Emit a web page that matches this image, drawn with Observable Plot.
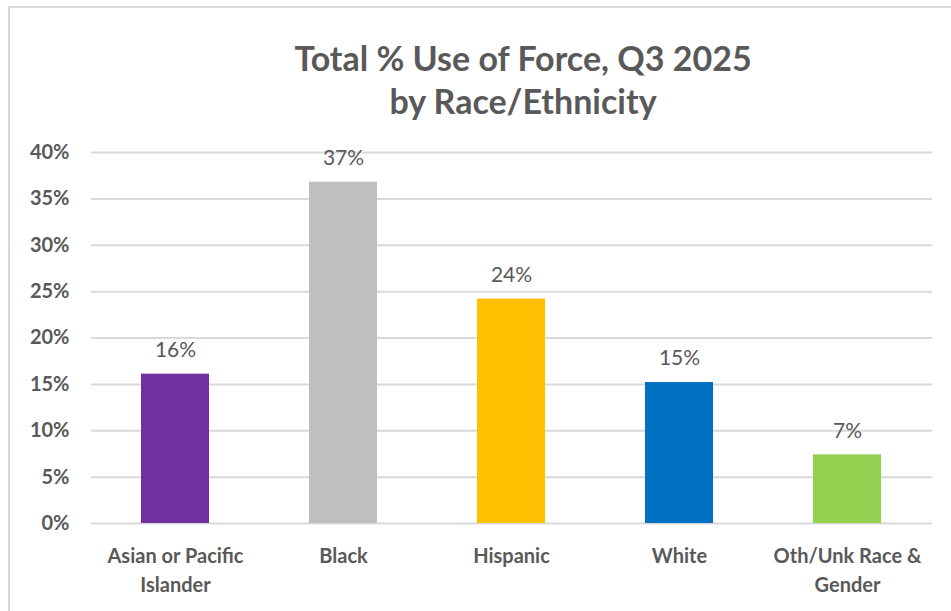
<!DOCTYPE html>
<html>
<head>
<meta charset="utf-8">
<script src="https://cdn.jsdelivr.net/npm/d3@7"></script>
<script src="https://cdn.jsdelivr.net/npm/@observablehq/plot@0.6"></script>
<style>
  html, body { margin: 0; padding: 0; background: #fff; overflow: hidden; }
  #wrap { position: relative; width: 951px; height: 611px; overflow: hidden; font-family: Lato, "Open Sans", sans-serif; }
  #frame { position: absolute; left: 8px; top: 6px; width: 960px; height: 640px; border-left: 2px solid #d9d9d9; border-top: 2px solid #d9d9d9; }
  #title { position: absolute; left: 95px; width: 856px; top: 36px; text-align: center; font-weight: bold; font-size: 34px; line-height: 43px; color: #595959; }
  #chart { position: absolute; left: 0; top: 0; }
</style>
</head>
<body>
<div id="wrap">
  <div id="frame"></div>
  <div id="chart"></div>
  <div id="title">Total % Use of Force, Q3 2025<br>by Race/Ethnicity</div>
</div>
<script>
const categories = ["Asian or Pacific Islander", "Black", "Hispanic", "White", "Oth/Unk Race & Gender"];
const tickLabels = ["Asian or Pacific\nIslander", "Black", "Hispanic", "White", "Oth/Unk Race &\nGender"];
const values = [0.161, 0.368, 0.242, 0.152, 0.074];
const colors = ["#7030A0", "#BFBFBF", "#FFC000", "#0070C0", "#92D050"];
const yTicks = [0, 0.05, 0.10, 0.15, 0.20, 0.25, 0.30, 0.35, 0.40];

const data = categories.map((c, i) => ({category: c, value: values[i], color: colors[i]}));
const labelOf = new Map(categories.map((c, i) => [c, tickLabels[i]]));
const pct = d3.format(".0%");

const chart = Plot.plot({
  width: 951,
  height: 611,
  marginTop: 152,
  marginBottom: 88,
  marginLeft: 91,
  marginRight: 19,
  style: {fontFamily: "Lato, 'Open Sans', sans-serif", background: "transparent", color: "#595959"},
  x: {domain: categories, paddingInner: 0.595, paddingOuter: 0.2975, align: 0.5, label: null},
  y: {domain: [0, 0.4], label: null},
  marks: [
    Plot.gridY(yTicks, {stroke: "#d9d9d9", strokeOpacity: 1, strokeWidth: 2}),
    Plot.barY(data, {x: "category", y: "value", fill: "color"}),
    Plot.text(data, {x: "category", y: "value", text: d => pct(d.value), dy: -24, lineAnchor: "middle", fill: "#595959", fontSize: 21}),
    Plot.axisY(yTicks, {tickSize: 0, tickPadding: 22, tickFormat: pct, fontSize: 20, fontWeight: "bold", fill: "#595959"}),
    Plot.axisX({tickSize: 0, tickPadding: 19, tickFormat: d => labelOf.get(d), fontSize: 20, fontWeight: "bold", fill: "#595959", lineHeight: 1.45})
  ]
});
document.getElementById("chart").appendChild(chart);
</script>
</body>
</html>
